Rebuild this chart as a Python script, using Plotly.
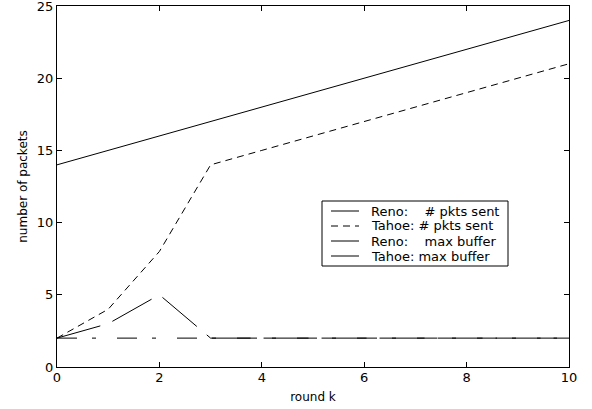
import plotly.graph_objects as go

rounds = [0, 1, 2, 3, 4, 5, 6, 7, 8, 9, 10]
reno_sent = [14, 15, 16, 17, 18, 19, 20, 21, 22, 23, 24]
tahoe_sent = [2, 4, 8, 14, 15, 16, 17, 18, 19, 20, 21]
reno_buf = [2, 3, 5, 2, 2, 2, 2, 2, 2, 2, 2]
tahoe_buf = [2, 2, 2, 2, 2, 2, 2, 2, 2, 2, 2]

x_ticks = [0, 2, 4, 6, 8, 10]
y_ticks = [0, 5, 10, 15, 20, 25]

sp = "\u00a0"
legend_labels = ["Reno:" + sp * 4 + "# pkts sent",
                 "Tahoe: # pkts sent",
                 "Reno:" + sp * 4 + "max buffer",
                 "Tahoe: max buffer"]

font = "DejaVu Sans, Verdana, sans-serif"

W, H = 592, 409
ML, MR, MT, MB = 57, 23, 6, 42
PW, PH = W - ML - MR, H - MT - MB


def px_x(p):
    return (p - ML) / PW


def px_y(p):
    return (H - MB - p) / PH


styles = [dict(color="black", width=1),
          dict(color="black", width=1, dash="7px,5px"),
          dict(color="black", width=1, dash="45px,13px"),
          dict(color="gray", width=2)]

fig = go.Figure()
fig.add_trace(go.Scatter(x=rounds, y=tahoe_buf, mode="lines", name=legend_labels[3],
                         showlegend=False,
                         line=dict(color="black", width=1, dash="20px,15px,4px,21px")))
fig.add_trace(go.Scatter(x=rounds, y=reno_sent, mode="lines", name=legend_labels[0],
                         showlegend=False, line=styles[0]))
fig.add_trace(go.Scatter(x=rounds, y=tahoe_sent, mode="lines", name=legend_labels[1],
                         showlegend=False, line=styles[1]))
fig.add_trace(go.Scatter(x=rounds, y=reno_buf, mode="lines", name=legend_labels[2],
                         showlegend=False, line=styles[2]))

# legend box drawn like the original (compact rows)
box_l, box_r, box_t, box_b = 322, 508, 201, 266
fig.add_shape(type="rect", xref="paper", yref="paper",
              x0=px_x(box_l), x1=px_x(box_r), y0=px_y(box_b), y1=px_y(box_t),
              line=dict(color="black", width=1), fillcolor="white", layer="above")
row_y = [211, 226, 241, 256]
for lab, st, ry in zip(legend_labels, styles, row_y):
    fig.add_shape(type="line", xref="paper", yref="paper",
                  x0=px_x(331), x1=px_x(359), y0=px_y(ry), y1=px_y(ry),
                  line=st, layer="above")
    fig.add_annotation(xref="paper", yref="paper", x=px_x(369), y=px_y(ry),
                       xanchor="left", yanchor="middle", text=lab, showarrow=False,
                       font=dict(family=font, size=13, color="black"))

axis_common = dict(showline=True, linecolor="black", linewidth=1, mirror="ticks",
                   ticks="inside", ticklen=5, tickcolor="black", showgrid=False,
                   zeroline=False, ticklabeloverflow="allow", automargin=False,
                   tickfont=dict(family=font, size=13, color="black"))

fig.update_layout(
    width=W, height=H,
    margin=dict(l=ML, r=MR, t=MT, b=MB),
    plot_bgcolor="white", paper_bgcolor="white",
    font=dict(family=font, size=12, color="black"),
    showlegend=False,
    xaxis=dict(range=[0, 10], tickvals=x_ticks, ticklabelstandoff=-2,
               title=dict(text="round k", font=dict(size=12), standoff=9),
               **axis_common),
    yaxis=dict(range=[0, 25], tickvals=y_ticks,
               title=dict(text="number of packets", font=dict(size=12), standoff=6),
               **axis_common),
)

fig.write_html("out.html", config={"displayModeBar": False},
               post_script="document.body.style.margin='0';document.body.style.padding='0';")
